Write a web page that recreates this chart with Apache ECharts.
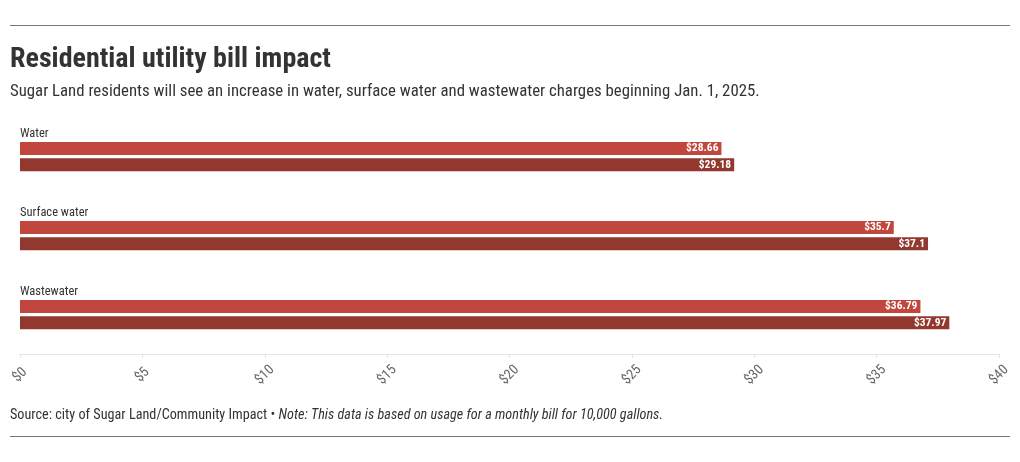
<!DOCTYPE html>
<html><head><meta charset="utf-8">
<script src="https://cdn.jsdelivr.net/npm/echarts@6/dist/echarts.min.js"></script>
<style>html,body{margin:0;padding:0;background:#fff}#c{width:1020px;height:462px}</style>
</head><body><div id="c"></div>
<script>
const categories = ['Water', 'Surface water', 'Wastewater'];
const currentRates = [28.66, 35.7, 36.79];
const newRates = [29.18, 37.1, 37.97];
const xTicks = [0, 5, 10, 15, 20, 25, 30, 35, 40];

const FONT = '"Liberation Sans Narrow", "Roboto Condensed", Roboto, sans-serif';
const chart = echarts.init(document.getElementById('c'));
const labelCfg = {
  show: true, position: 'insideRight', distance: 3,
  color: '#fff', fontFamily: FONT, fontWeight: 'bold', fontSize: 11.5,
  formatter: p => '$' + p.value
};
chart.setOption({
  animation: false,
  textStyle: { fontFamily: FONT },
  title: [
    { text: 'Residential utility bill impact', left: 10, top: 46, padding: 0,
      textStyle: { fontSize: 28, fontWeight: 'bold', color: '#333', fontFamily: FONT } },
    { text: 'Sugar Land residents will see an increase in water, surface water and wastewater charges beginning Jan. 1, 2025.',
      left: 10, top: 83, padding: 0, textStyle: { fontSize: 16.8, fontWeight: 'normal', color: '#333', fontFamily: FONT } },
    { text: '{a|Source: city of Sugar Land/Community Impact • }{b|Note: This data is based on usage for a monthly bill for 10,000 gallons.}',
      left: 10, top: 408, padding: 0,
      textStyle: { fontWeight: 'normal', rich: {
        a: { fontSize: 14.2, color: '#333', fontWeight: 'normal', fontFamily: FONT },
        b: { fontSize: 14.2, color: '#333', fontWeight: 'normal', fontStyle: 'italic', fontFamily: FONT }
      } } }
  ],
  graphic: [
    { type: 'line', shape: { x1: 10, y1: 25.5, x2: 1010, y2: 25.5 }, style: { stroke: '#777', lineWidth: 1 } },
    { type: 'line', shape: { x1: 10, y1: 436.5, x2: 1010, y2: 436.5 }, style: { stroke: '#777', lineWidth: 1 } }
  ],
  grid: { left: 20, right: 21, top: 117, height: 237 },
  xAxis: {
    type: 'value', min: 0, max: 40, interval: 5,
    axisLine: { show: true, lineStyle: { color: '#e4e4e4' } },
    axisTick: { show: true, length: 4, lineStyle: { color: '#e4e4e4' } },
    splitLine: { show: false },
    axisLabel: { rotate: 45, align: 'center', verticalAlign: 'middle', color: '#666', fontSize: 14, margin: 21, fontFamily: FONT,
      formatter: v => xTicks.includes(v) ? '$' + v : '' }
  },
  yAxis: {
    type: 'category', data: categories, inverse: true,
    axisLine: { show: false }, axisTick: { show: false },
    axisLabel: { inside: true, align: 'left', verticalAlign: 'bottom', margin: 0,
      padding: [0, 0, 16, 0], color: '#333', fontSize: 12.5, fontFamily: FONT }
  },
  series: [
    { name: '2024', type: 'bar', data: currentRates, barWidth: 13, barGap: '25%',
      itemStyle: { color: '#c1463d' }, label: labelCfg },
    { name: '2025', type: 'bar', data: newRates, barWidth: 13,
      itemStyle: { color: '#92382f' }, label: labelCfg }
  ]
});
</script></body></html>
